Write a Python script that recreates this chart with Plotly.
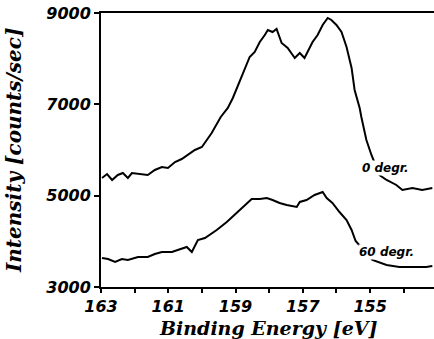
import plotly.graph_objects as go

# Binding energy (eV) and intensity (counts/sec)
energy_0 = [162.97, 162.82, 162.67, 162.50, 162.35, 162.20, 162.08, 161.90, 161.61, 161.40,
            161.19, 161.01, 160.80, 160.60, 160.42, 160.21, 160.00, 159.91, 159.71, 159.44,
            159.23, 159.08, 158.88, 158.58, 158.43, 158.28, 158.13, 158.04, 157.90, 157.78,
            157.63, 157.45, 157.24, 157.09, 156.95, 156.71, 156.56, 156.41, 156.26, 156.15,
            156.00, 155.85, 155.70, 155.55, 155.46, 155.31, 155.26, 155.11, 154.96, 154.72,
            154.51, 154.22, 154.04, 153.74, 153.45, 153.15]
intensity_0 = [5387, 5474, 5343, 5453, 5496, 5387, 5496, 5474, 5453, 5562,
               5628, 5606, 5737, 5803, 5891, 6000, 6066, 6153, 6372, 6723,
               6920, 7139, 7489, 8037, 8146, 8365, 8518, 8628, 8584, 8650,
               8343, 8234, 8015, 8124, 8015, 8365, 8518, 8737, 8891, 8847,
               8737, 8584, 8256, 7796, 7314, 6920, 6723, 6219, 5891, 5453,
               5343, 5234, 5124, 5168, 5124, 5168]

energy_60 = [162.97, 162.79, 162.58, 162.38, 162.20, 161.90, 161.61, 161.40, 161.19, 160.89,
             160.72, 160.45, 160.30, 160.12, 159.91, 159.68, 159.56, 159.26, 158.96, 158.79,
             158.52, 158.28, 158.07, 157.90, 157.69, 157.48, 157.18, 157.09, 156.89, 156.65,
             156.41, 156.29, 156.12, 155.91, 155.70, 155.55, 155.43, 154.93, 154.51, 154.13,
             153.74, 153.33, 153.15]
intensity_60 = [3635, 3613, 3548, 3613, 3591, 3657, 3657, 3723, 3767, 3767,
                3810, 3876, 3767, 4029, 4073, 4183, 4248, 4424, 4621, 4752,
                4927, 4927, 4949, 4905, 4840, 4796, 4752, 4862, 4905, 5015,
                5080, 4949, 4840, 4642, 4467, 4248, 4007, 3591, 3482, 3438,
                3438, 3438, 3460]

x_tickvals = [163, 162, 161, 160, 159, 158, 157, 156, 155, 154, 153]
x_ticktext = ["163", "", "161", "", "159", "", "157", "", "155", "", ""]
y_tickvals = [3000, 5000, 7000, 9000]
y_ticktext = ["3000", "5000", "7000", "9000"]

series_labels = ["0 degr.", "60 degr."]
x_title = "Binding Energy [eV]"
y_title = "Intensity [counts/sec]"

title_font = dict(family="DejaVu Serif", size=20, color="black", weight="bold", style="italic")
xtitle_font = dict(family="DejaVu Serif", size=19, color="black", weight="bold", style="italic")
tick_font = dict(family="DejaVu Sans", size=16, color="black", weight="bold", style="italic")
label_font = dict(family="DejaVu Sans", size=12, color="black", weight="bold", style="italic")

fig = go.Figure()
fig.add_trace(go.Scatter(x=energy_0, y=intensity_0, mode="lines",
                         line=dict(color="black", width=2), showlegend=False))
fig.add_trace(go.Scatter(x=energy_60, y=intensity_60, mode="lines",
                         line=dict(color="black", width=2), showlegend=False))

fig.add_annotation(x=154.53, y=5606, text=series_labels[0], showarrow=False,
                   font=label_font, bgcolor="white", borderpad=0)
fig.add_annotation(x=154.5, y=3760, text=series_labels[1], showarrow=False,
                   font=label_font, bgcolor="white", borderpad=0)

fig.add_annotation(xref="paper", yref="paper", x=0.5, y=-0.148, text=x_title,
                   showarrow=False, font=xtitle_font, xanchor="center", yanchor="middle")
fig.add_annotation(xref="paper", yref="paper", x=-0.261, y=0.5, text=y_title,
                   showarrow=False, font=title_font, textangle=-90,
                   xanchor="center", yanchor="middle")

fig.update_layout(
    width=434, height=339,
    margin=dict(l=101, r=0, t=13, b=52, autoexpand=False),
    paper_bgcolor="white", plot_bgcolor="white",
    xaxis=dict(range=[163, 153.1], tickvals=x_tickvals, ticktext=x_ticktext,
               ticks="outside", ticklen=4, tickwidth=1.5, tickcolor="black",
               showline=True, linecolor="black", linewidth=2, mirror=True,
               showgrid=False, zeroline=False, tickfont=tick_font, automargin=False),
    yaxis=dict(range=[3000, 9000], tickvals=y_tickvals, ticktext=y_ticktext,
               ticks="outside", ticklen=5, tickwidth=1.5, tickcolor="black",
               showline=True, linecolor="black", linewidth=2, mirror=False,
               showgrid=False, zeroline=False, tickfont=tick_font, automargin=False),
)

# remove the browser's default page margin so the figure sits at the window origin
fig.write_html("out.html", config={"displayModeBar": False},
               post_script="document.body.style.margin='0px';")
